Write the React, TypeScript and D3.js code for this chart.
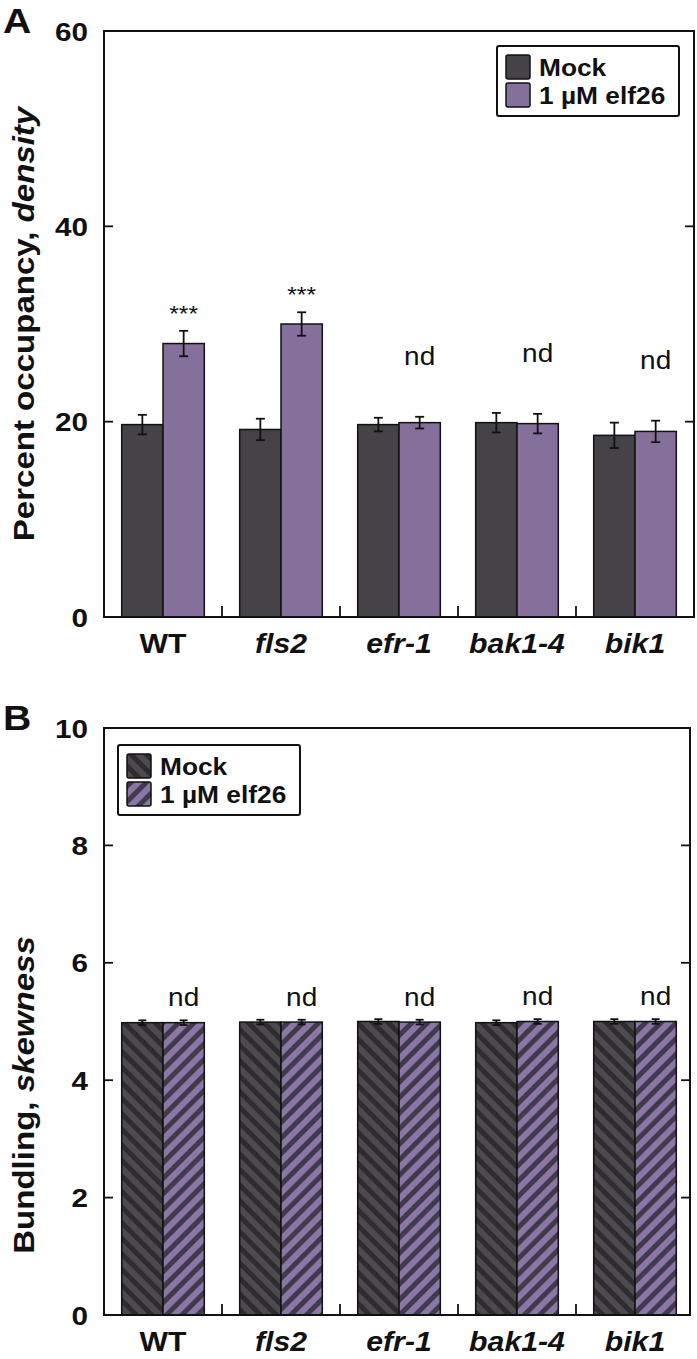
import * as d3 from "d3";
import { useEffect, useRef } from "react";

const groups = ["WT", "fls2", "efr-1", "bak1-4", "bik1"];
const italicGroups = ["fls2", "efr-1", "bak1-4", "bik1"];
const seriesNames = ["Mock", "1 µM elf26"];

// panel A: percent occupancy, density
const occupancyMock = [19.7, 19.2, 19.7, 19.9, 18.6];
const occupancyMockErr = [1.0, 1.1, 0.7, 1.0, 1.3];
const occupancyElf = [28.0, 30.0, 19.9, 19.8, 19.0];
const occupancyElfErr = [1.3, 1.2, 0.6, 1.0, 1.1];
const occupancyMarks = ["***", "***", "nd", "nd", "nd"];
const occupancyTicks = [0, 20, 40, 60];

// panel B: bundling, skewness
const bundlingMock = [4.98, 4.99, 5.0, 4.98, 5.0];
const bundlingMockErr = [0.04, 0.04, 0.04, 0.04, 0.04];
const bundlingElf = [4.98, 4.99, 4.99, 5.0, 5.0];
const bundlingElfErr = [0.04, 0.04, 0.04, 0.04, 0.04];
const bundlingMarks = ["nd", "nd", "nd", "nd", "nd"];
const bundlingTicks = [0, 2, 4, 6, 8, 10];

const FONT = "'Liberation Sans', Arial, Helvetica, sans-serif";
const WIDE = 1.12; // the original font runs a bit wider than Arial

const App = () => {
  const svgRef = useRef(null);

  useEffect(() => {
    const width = 697;
    const height = 1359;
    const svg = d3.select(svgRef.current).attr("width", width).attr("height", height);
    svg.selectAll("*").remove();

    // text helper, widened glyphs
    const label = (parent, x, y, str, o = {}) => {
      const t = parent
        .append("g")
        .attr("transform", `translate(${x},${y}) rotate(${o.rotate || 0}) scale(${WIDE},1)`)
        .append("text")
        .attr("text-anchor", o.anchor || "start")
        .attr("dy", o.dy || 0)
        .attr("font-family", FONT)
        .attr("font-weight", o.bold === false ? "normal" : "bold")
        .attr("font-style", o.italic ? "italic" : "normal")
        .attr("font-size", o.size || 26)
        .attr("fill", "#111");
      if (str !== null) t.text(str);
      return t;
    };

    // hatch patterns for panel B
    const defs = svg.append("defs");
    const hatch = (id, base, stripe, angle) => {
      const p = defs
        .append("pattern")
        .attr("id", id)
        .attr("patternUnits", "userSpaceOnUse")
        .attr("width", 11)
        .attr("height", 11)
        .attr("patternTransform", `rotate(${angle})`);
      p.append("rect").attr("width", 11).attr("height", 11).attr("fill", base);
      p.append("rect").attr("width", 5).attr("height", 11).attr("fill", stripe);
    };
    hatch("mockHatch", "#4c494f", "#2e2c31", -45);
    hatch("elfHatch", "#8b77a5", "#403a4c", 45);

    const drawPanel = (o) => {
      const g = svg.append("g");
      const x = d3.scaleBand().domain(groups).range([104, 694]).paddingInner(0.3).paddingOuter(0.15);
      const xs = d3.scaleBand().domain([0, 1]).range([0, x.bandwidth()]);
      const y = d3.scaleLinear().domain(o.domain).range([o.bottom, o.top]);

      // panel letter
      label(g, 3, o.letterY, o.letter, { size: 35 });

      const series = [
        { vals: o.mock, errs: o.mockErr, fill: o.fills[0] },
        { vals: o.elf, errs: o.elfErr, fill: o.fills[1] },
      ];

      series.forEach((s, si) => {
        g.selectAll(null)
          .data(groups)
          .join("rect")
          .attr("x", (d) => x(d) + xs(si))
          .attr("y", (d, i) => y(s.vals[i]))
          .attr("width", xs.bandwidth())
          .attr("height", (d, i) => y(0) - y(s.vals[i]))
          .attr("fill", s.fill)
          .attr("stroke", "#111")
          .attr("stroke-width", 1.5);

        const eb = g
          .selectAll(null)
          .data(groups)
          .join("g")
          .attr("stroke", "#111")
          .attr("stroke-width", 1.8);
        const cx = (d) => x(d) + xs(si) + xs.bandwidth() / 2;
        eb.append("line")
          .attr("x1", cx)
          .attr("x2", cx)
          .attr("y1", (d, i) => y(s.vals[i] + s.errs[i]))
          .attr("y2", (d, i) => y(s.vals[i] - s.errs[i]));
        [1, -1].forEach((sign) => {
          eb.append("line")
            .attr("x1", (d) => cx(d) - o.cap)
            .attr("x2", (d) => cx(d) + o.cap)
            .attr("y1", (d, i) => y(s.vals[i] + sign * s.errs[i]))
            .attr("y2", (d, i) => y(s.vals[i] + sign * s.errs[i]));
        });
      });

      // significance marks above elf26 bars
      groups.forEach((d, i) => {
        const m = o.marks[i];
        label(g, x(d) + xs(1) + xs.bandwidth() / 2, y(o.elf[i] + o.elfErr[i]) - o.markOffset[m], m, {
          anchor: "middle",
          bold: false,
          size: m === "nd" ? 25 : 22,
        });
      });

      // frame
      g.append("rect")
        .attr("x", 104)
        .attr("y", o.top)
        .attr("width", o.right - 104)
        .attr("height", o.bottom - o.top)
        .attr("fill", "none")
        .attr("stroke", "#111")
        .attr("stroke-width", 2);

      // y ticks, inward on both sides
      o.ticks.forEach((t) => {
        if (t !== o.domain[0] && t !== o.domain[1]) {
          g.append("line").attr("x1", 104).attr("x2", 113).attr("y1", y(t)).attr("y2", y(t)).attr("stroke", "#111").attr("stroke-width", 1.8);
          g.append("line").attr("x1", o.right - 9).attr("x2", o.right).attr("y1", y(t)).attr("y2", y(t)).attr("stroke", "#111").attr("stroke-width", 1.8);
        }
        label(g, 88, y(t), String(t), { anchor: "end", dy: "0.36em", size: 26.5 });
      });

      // x separator ticks between groups
      const step = x.step();
      groups.slice(0, -1).forEach((d) => {
        const sx = x(d) + x.bandwidth() + (step - x.bandwidth()) / 2;
        g.append("line").attr("x1", sx).attr("x2", sx).attr("y1", o.bottom).attr("y2", o.bottom - 11).attr("stroke", "#111").attr("stroke-width", 1.8);
      });

      // x labels
      groups.forEach((d) => {
        label(g, x(d) + x.bandwidth() / 2, o.bottom + 36, d, {
          anchor: "middle",
          italic: italicGroups.includes(d),
          size: 27,
        });
      });

      // y axis title
      const title = label(g, 34, o.titleY, null, { anchor: "middle", rotate: -90, size: 29.5 });
      title.append("tspan").text(o.title[0]);
      title.append("tspan").attr("font-style", "italic").text(o.title[1]);

      // legend
      const lg = g.append("g").attr("transform", `translate(${o.legend[0]},${o.legend[1]})`);
      lg.append("rect").attr("width", 182).attr("height", 70).attr("rx", 2).attr("fill", "#fff").attr("stroke", "#111").attr("stroke-width", 2);
      seriesNames.forEach((name, i) => {
        lg.append("rect")
          .attr("x", 9)
          .attr("y", 9 + i * 28)
          .attr("width", 24)
          .attr("height", 24)
          .attr("rx", 2)
          .attr("fill", o.fills[i])
          .attr("stroke", "#111")
          .attr("stroke-width", 1.5);
        label(lg, 42, 30 + i * 28, name, { size: 23.5 });
      });
    };

    drawPanel({
      letter: "A",
      letterY: 33,
      domain: [0, 60],
      top: 31,
      bottom: 617,
      right: 694,
      ticks: occupancyTicks,
      mock: occupancyMock,
      mockErr: occupancyMockErr,
      elf: occupancyElf,
      elfErr: occupancyElfErr,
      marks: occupancyMarks,
      markOffset: { "***": 10, nd: 52 },
      fills: ["#454248", "#85709c"],
      cap: 4.5,
      title: ["Percent occupancy, ", "density"],
      titleY: 324,
      legend: [497, 46],
    });

    drawPanel({
      letter: "B",
      letterY: 730,
      domain: [0, 10],
      top: 728,
      bottom: 1315,
      right: 690,
      ticks: bundlingTicks,
      mock: bundlingMock,
      mockErr: bundlingMockErr,
      elf: bundlingElf,
      elfErr: bundlingElfErr,
      marks: bundlingMarks,
      markOffset: { nd: 14 },
      fills: ["url(#mockHatch)", "url(#elfHatch)"],
      cap: 4,
      title: ["Bundling, ", "skewness"],
      titleY: 1095,
      legend: [118, 745],
    });
  }, []);

  return <svg ref={svgRef} style={{ position: "absolute", left: 0, top: 0, display: "block" }}></svg>;
};

export default App;
